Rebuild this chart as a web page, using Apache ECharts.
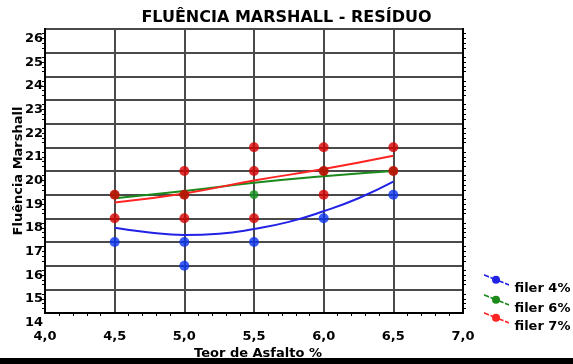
<!DOCTYPE html>
<html>
<head>
<meta charset="utf-8">
<script src="https://cdn.jsdelivr.net/npm/echarts@6/dist/echarts.min.js"></script>
<style>
  html, body { margin: 0; padding: 0; background: #fff; }
  #chart { width: 573px; height: 364px; }
</style>
</head>
<body>
<div id="chart"></div>
<script>
// Marshall flow vs. asphalt content, three filler contents
const seriesNames = ['filer 4%', 'filer 6%', 'filer 7%'];

// measured specimens [teor de asfalto %, fluência]
const filer4Pts = [[4.5, 17], [5.0, 17], [5.0, 16], [5.5, 17], [6.0, 18], [6.5, 19]];
const filer6Pts = [[4.5, 19], [5.0, 19], [5.5, 19], [6.0, 20], [6.5, 20]];
const filer7Pts = [[4.5, 19], [4.5, 18], [5.0, 20], [5.0, 19], [5.0, 18],
                   [5.5, 21], [5.5, 20], [5.5, 18], [6.0, 21], [6.0, 20], [6.0, 19],
                   [6.5, 21], [6.5, 20]];

// fitted trend curves
const fit4X = [4.5, 4.75, 5.0, 5.25, 5.5, 5.75, 6.0, 6.25, 6.5];
const fit4Y = [17.6, 17.4, 17.3, 17.35, 17.55, 17.85, 18.3, 18.85, 19.55];
const fitX = [4.5, 5.0, 5.5, 6.0, 6.5];
const fit6Y = [18.85, 19.15, 19.5, 19.78, 20.0];
const fit7Y = [18.67, 19.05, 19.6, 20.08, 20.64];

// axis ticks
const xTicks = [4.0, 4.5, 5.0, 5.5, 6.0, 6.5, 7.0];
const xTickLabels = ['4,0', '4,5', '5,0', '5,5', '6,0', '6,5', '7,0'];
const yTicks = [14, 15, 16, 17, 18, 19, 20, 21, 22, 23, 24, 25, 26];

const dotColors = ['#0a34f0', '#12901c', '#d40000'];
const lineColors = ['#2222e6', '#1b8a1b', '#ff2424'];
const dotSizes = [10, 9, 10];

const pair = (xs, ys) => xs.map((x, i) => [x, ys[i]]);

// slanted dashed line with a dot; the trailing move keeps the key in the
// upper part of the item box so the label sits lower and to the right
const legendIcon = 'path://' +
  'M0,-0.9L5,1.1L5,2.9L0,0.9Z' +
  'M6.5,1.7L8.5,2.5L8.5,4.3L6.5,3.5Z' +
  'M16,4.8A4,4 0 1 1 8,4.8A4,4 0 1 1 16,4.8Z' +
  'M15.5,5.3L19.5,6.9L19.5,8.7L15.5,7.1Z' +
  'M21,7.5L25,9.1L25,10.9L21,9.3Z' +
  'M0,28.1';

const font = 'DejaVu Sans';
const legendTops = [274, 294, 312];

const chart = echarts.init(document.getElementById('chart'), null, { renderer: 'canvas' });

const scatterSeries = [filer4Pts, filer6Pts, filer7Pts].map((pts, i) => ({
  name: seriesNames[i],
  type: 'scatter',
  data: pts,
  symbol: 'circle',
  symbolSize: dotSizes[i],
  itemStyle: { color: dotColors[i] },
  z: 3 + i
}));

const fitSeries = [pair(fit4X, fit4Y), pair(fitX, fit6Y), pair(fitX, fit7Y)].map((d, i) => ({
  name: seriesNames[i],
  type: 'line',
  data: d,
  smooth: true,
  showSymbol: false,
  lineStyle: { color: lineColors[i], width: 2 },
  itemStyle: { color: dotColors[i] },
  z: 2
}));

// one legend block per filler content, stacked at the lower right
const legends = seriesNames.map((n, i) => ({
  orient: 'vertical',
  left: 484,
  top: legendTops[i],
  padding: 0,
  itemWidth: 26,
  itemHeight: 29,
  data: [{ name: n, icon: legendIcon, itemStyle: { color: lineColors[i] } }],
  textStyle: { fontFamily: font, fontWeight: 'bold', fontSize: 13, color: '#000' },
  selectedMode: false
}));

chart.setOption({
  animation: false,
  backgroundColor: '#ffffff',
  title: {
    text: 'FLUÊNCIA MARSHALL - RESÍDUO',
    left: 'center',
    top: 5,
    textStyle: { fontFamily: font, fontWeight: 'bold', fontSize: 16, color: '#000' }
  },
  grid: {
    left: 45, right: 110, top: 29, bottom: 51,
    outerBoundsMode: 'none',
    containLabel: false,
    show: true, borderColor: '#000', borderWidth: 2, backgroundColor: 'transparent'
  },
  legend: legends,
  xAxis: {
    type: 'value',
    min: xTicks[0],
    max: xTicks[xTicks.length - 1],
    interval: 0.5,
    name: 'Teor de Asfalto %',
    nameLocation: 'middle',
    nameGap: 34,
    nameMoveOverlap: false,
    nameTextStyle: { fontFamily: font, fontWeight: 'bold', fontSize: 13, color: '#000', padding: [0, 0, 0, 8] },
    axisLine: { show: true, lineStyle: { color: '#000', width: 2 } },
    axisTick: { show: false },
    minorTick: { show: true, splitNumber: 5, length: 3, lineStyle: { color: '#000', width: 1 } },
    axisLabel: {
      margin: 17,
      fontFamily: font, fontWeight: 'bold', fontSize: 13, color: '#000',
      formatter: v => xTickLabels[xTicks.findIndex(t => Math.abs(t - v) < 1e-6)] || ''
    },
    splitLine: { show: true, lineStyle: { color: '#4a4a4a', width: 2 } }
  },
  yAxis: [{
    type: 'value',
    min: yTicks[0],
    max: yTicks[yTicks.length - 1],
    interval: 1,
    name: 'Fluência Marshall',
    nameLocation: 'middle',
    nameGap: 20,
    nameMoveOverlap: false,
    nameTextStyle: { fontFamily: font, fontWeight: 'bold', fontSize: 13, color: '#000' },
    axisLine: { show: true, lineStyle: { color: '#000', width: 2 } },
    axisTick: { show: false },
    minorTick: { show: true, splitNumber: 5, length: 3, lineStyle: { color: '#000', width: 1 } },
    axisLabel: {
      margin: 2,
      verticalAlign: 'top',
      lineHeight: 19,
      fontFamily: font, fontWeight: 'bold', fontSize: 13, color: '#000'
    },
    splitLine: { show: true, lineStyle: { color: '#4a4a4a', width: 2 } }
  }, {
    type: 'value',
    position: 'right',
    min: yTicks[0],
    max: yTicks[yTicks.length - 1],
    interval: 1,
    axisLine: { show: true, lineStyle: { color: '#000', width: 2 } },
    axisTick: { show: false },
    minorTick: { show: true, splitNumber: 5, length: 3, lineStyle: { color: '#000', width: 1 } },
    axisLabel: { show: false },
    splitLine: { show: false }
  }],
  graphic: [{
    type: 'rect',
    left: 0, top: 358,
    shape: { width: 573, height: 6 },
    style: { fill: '#000' },
    z: 100
  }],
  series: fitSeries.concat(scatterSeries)
});
</script>
</body>
</html>
